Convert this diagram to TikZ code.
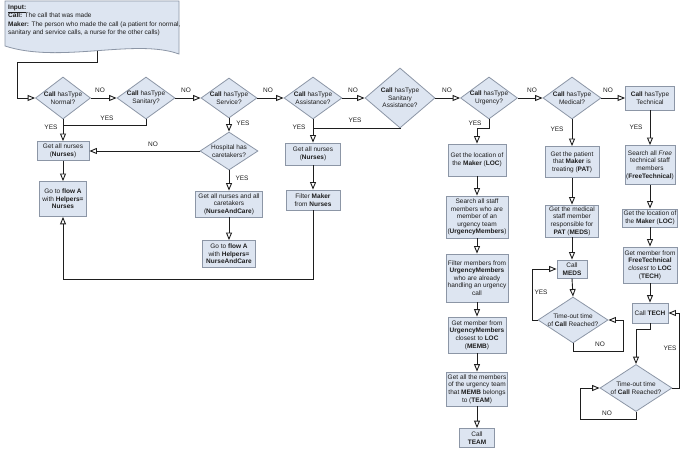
\documentclass[tikz,border=0pt]{standalone}
\usepackage{fontspec}
\setmainfont{Liberation Sans}
\usetikzlibrary{arrows.meta,shapes.geometric}
\definecolor{boxfill}{RGB}{221,229,241}
\definecolor{boxline}{RGB}{140,150,166}
\definecolor{ink}{RGB}{30,30,30}
\newcommand{\fsz}{\fontsize{6.5}{7.6}\selectfont}
\begin{document}
\begin{tikzpicture}[x=1pt,y=-1pt,
 box/.style={draw=boxline, fill=boxfill, line width=0.8pt, inner sep=1pt, align=center, font=\fsz, text=ink},
 bx/.style 2 args={box, minimum width=#1pt, minimum height=#2pt},
 dec/.style 2 args={diamond, draw=boxline, fill=boxfill, line width=0.8pt, inner sep=0pt, minimum width=#1pt, minimum height=#2pt},
 dtext/.style={font=\fsz, align=center, text=ink, inner sep=0pt},
 lbl/.style={font=\fsz, text=ink, inner sep=0pt},
 arr/.style={draw=ink, line width=0.9pt, -{Triangle[open,length=7.5pt,width=6pt]}},
 ln/.style={draw=ink, line width=0.9pt}]
\useasboundingbox (0,0) rectangle (685,454);

% input document
\draw[draw=boxline, fill=boxfill, line width=0.8pt] (5,1) -- (179,1) -- (179,54) .. controls (135,38) and (60,64) .. (5,46) -- cycle;
\node[anchor=north west, align=left, font=\fontsize{6.5}{8.2}\selectfont, text=ink, inner sep=0pt] (inp) at (8,5)
 {\underline{\textbf{Input:}}\\\textbf{Call:} The call that was made\\\textbf{Maker:} The person who made the call (a patient for normal,\\sanitary and service calls, a nurse for the other calls)};
\coordinate (inb) at (97,51);
\coordinate (c1) at (97,62);
\coordinate (c2) at (17,62);

% decision row
\node[dec={55}{42}, label={[dtext]center:{\textbf{Call} hasType\\Normal?}}] (D1) at (63,98) {};
\node[dec={58}{42}, label={[dtext]center:{\textbf{Call} hasType\\Sanitary?}}] (D2) at (146,98) {};
\node[dec={56}{40}, label={[dtext]center:{\textbf{Call} hasType\\Service?}}] (D3) at (229,98) {};
\node[dec={58}{42}, label={[dtext]center:{\textbf{Call} hasType\\Assistance?}}] (D4) at (313,98) {};
\node[dec={70}{60}, label={[dtext]center:{\textbf{Call} hasType\\Sanitary\\Assistance?}}] (D5) at (400,98) {};
\node[dec={57}{42}, label={[dtext]center:{\textbf{Call} hasType\\Urgency?}}] (D6) at (489,98) {};
\node[dec={58}{42}, label={[dtext]center:{\textbf{Call} hasType\\Medical?}}] (D7) at (572,98) {};
\node[bx={49}{24}] (T0) at (650,98) {\textbf{Call} hasType\\Technical};

% normal / sanitary column
\node[bx={52}{19}] (N1) at (63,151) {Get all nurses\\(\textbf{Nurses})};
\node[bx={47}{35}] (FA1) at (63,199) {Go to \textbf{flow A}\\with \textbf{Helpers=}\\\textbf{Nurses}};

% service column
\node[dec={58}{38}, label={[dtext]center:{Hospital has\\caretakers?}}] (H) at (229,151) {};
\node[bx={67}{26}] (NC) at (229,204) {Get all nurses and all\\caretakers\\(\textbf{NurseAndCare})};
\node[bx={53}{27}] (FA2) at (229,254) {Go to \textbf{flow A}\\with \textbf{Helpers=}\\\textbf{NurseAndCare}};

% assistance column
\node[bx={55}{22}] (N2) at (313,154) {Get all nurses\\(\textbf{Nurses})};
\node[bx={54}{20}] (F) at (313,200) {Filter \textbf{Maker}\\from \textbf{Nurses}};

% urgency column
\node[bx={58}{32}] (U1) at (477,160) {Get the location of\\the \textbf{Maker} (\textbf{LOC})};
\node[bx={62}{42}] (U2) at (477,217) {Search all staff\\members who are\\member of an\\urgency team\\(\textbf{UrgencyMembers})};
\node[bx={62}{48}] (U3) at (477,278) {Filter members from\\\textbf{UrgencyMembers}\\who are already\\handling an urgency\\call};
\node[bx={58}{36}] (U4) at (477,335) {Get member from\\\textbf{UrgencyMembers}\\closest to \textbf{LOC}\\(\textbf{MEMB})};
\node[bx={61}{34}] (U5) at (477,389) {Get all the members\\of the urgency team\\that \textbf{MEMB} belongs\\to (\textbf{TEAM})};
\node[bx={35}{19}] (U6) at (477,438) {Call\\\textbf{TEAM}};

% medical column
\node[bx={54}{31}] (M1) at (572,162) {Get the patient\\that \textbf{Maker} is\\treating (\textbf{PAT})};
\node[bx={53}{32}] (M2) at (572,221) {Get the medical\\staff member\\responsible for\\\textbf{PAT} (\textbf{MEDS})};
\node[bx={30}{18}] (M3) at (572,269) {Call\\\textbf{MEDS}};
\node[dec={70}{46}, label={[dtext]center:{Time-out time\\of \textbf{Call} Reached?}}] (MD) at (573,320) {};

% technical column
\node[bx={50}{39}] (T1) at (650,165) {Search all \textit{Free}\\technical staff\\members\\(\textbf{FreeTechnical})};
\node[bx={54}{18}] (T2) at (650,218) {Get the location of\\the \textbf{Maker} (\textbf{LOC})};
\node[bx={54}{36}] (T3) at (650,265) {Get member from\\\textbf{FreeTechnical}\\\textit{closest} to \textbf{LOC}\\(\textbf{TECH})};
\node[bx={36}{20}] (T4) at (650,313) {Call \textbf{TECH}};
\node[dec={72}{47}, label={[dtext]center:{Time-out time\\of \textbf{Call} Reached?}}] (TD) at (636,388) {};

% connectors
\draw[arr] (inb) -- (c1) -- (c2) |- (D1.west);
\draw[arr] (D1.east) -- (D2.west);
\draw[arr] (D2.east) -- (D3.west);
\draw[arr] (D3.east) -- (D4.west);
\draw[arr] (D4.east) -- (D5.west);
\draw[arr] (D5.east) -- (D6.west);
\draw[arr] (D6.east) -- (D7.west);
\draw[arr] (D7.east) -- (T0.west);

\draw[arr] (D1.south) -- (N1.north);
\coordinate (j2) at (63,125);
\draw[ln] (D2.south) |- (j2);
\draw[arr] (N1.south) -- (FA1.north);

\draw[arr] (D3.south) -- (H.north);
\draw[arr] (H.west) -- (N1.east);
\draw[arr] (H.south) -- (NC.north);
\draw[arr] (NC.south) -- (FA2.north);

\draw[arr] (D4.south) -- (N2.north);
\coordinate (j5) at (313,128);
\draw[ln] (D5.south) |- (j5);
\draw[arr] (N2.south) -- (F.north);
\coordinate (b1) at (63,279);
\draw[arr] (F.south) |- (b1) -- (FA1.south);

\coordinate (j6) at (489,128);
\draw[arr] (D6.south) -- (j6) -| (U1.north);
\draw[arr] (U1.south) -- (U2.north);
\draw[arr] (U2.south) -- (U3.north);
\draw[arr] (U3.south) -- (U4.north);
\draw[arr] (U4.south) -- (U5.north);
\draw[arr] (U5.south) -- (U6.north);

\draw[arr] (D7.south) -- (M1.north);
\draw[arr] (M1.south) -- (M2.north);
\draw[arr] (M2.south) -- (M3.north);
\draw[arr] (M3.south) -- (MD.north);
\coordinate (my) at (532,320);
\draw[arr] (MD.west) -- (my) |- (M3.west);
\coordinate (mn) at (623,351);
\draw[arr] (MD.south) |- (mn) |- (MD.east);

\draw[arr] (T0.south) -- (T1.north);
\draw[arr] (T1.south) -- (T2.north);
\draw[arr] (T2.south) -- (T3.north);
\draw[arr] (T3.south) -- (T4.north);
\coordinate (tj) at (650,329);
\draw[arr] (T4.south) -- (tj) -| (TD.north);
\coordinate (ty) at (679,388);
\draw[arr] (TD.east) -- (ty) |- (T4.east);
\coordinate (tn) at (580,419);
\draw[arr] (TD.south) |- (tn) |- (TD.west);

% labels
\node[lbl] (n1) at (100,90) {NO};
\node[lbl] (n2) at (186,90) {NO};
\node[lbl] (n3) at (268,90) {NO};
\node[lbl] (n4) at (353,90) {NO};
\node[lbl] (n5) at (447,90) {NO};
\node[lbl] (n6) at (532,90) {NO};
\node[lbl] (n7) at (608,90) {NO};
\node[lbl] (y1) at (51,127) {YES};
\node[lbl] (y2) at (107,118) {YES};
\node[lbl] (y3) at (243,123) {YES};
\node[lbl] (y4) at (299,127) {YES};
\node[lbl] (y5) at (355,120) {YES};
\node[lbl] (y6) at (475,123) {YES};
\node[lbl] (y7) at (557,129) {YES};
\node[lbl] (y8) at (636,127) {YES};
\node[lbl] (nh) at (153,144) {NO};
\node[lbl] (yh) at (242,178) {YES};
\node[lbl] (ym) at (541,292) {YES};
\node[lbl] (nm) at (600,344) {NO};
\node[lbl] (yt) at (670,348) {YES};
\node[lbl] (nt) at (607,413) {NO};
\end{tikzpicture}
\end{document}
